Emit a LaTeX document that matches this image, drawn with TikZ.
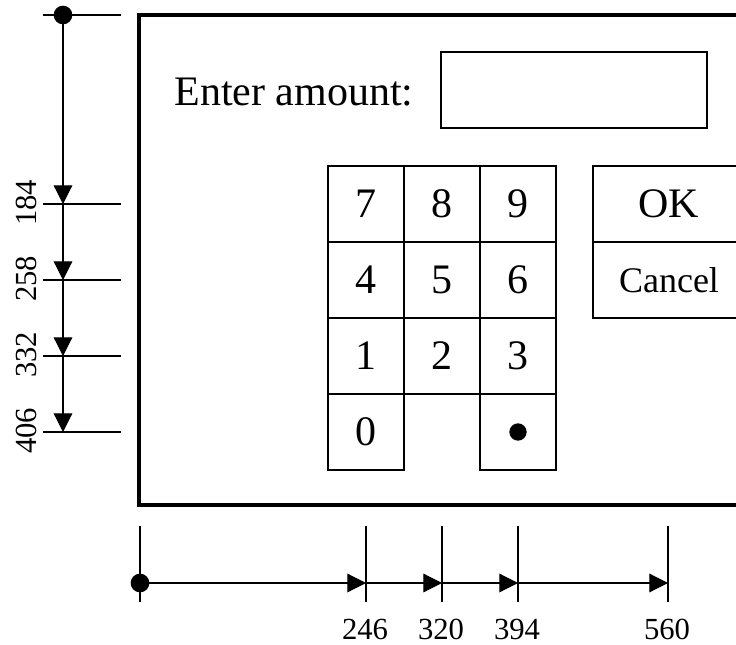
\documentclass[tikz,border=0pt]{standalone}
\usepackage{fontspec}
\setmainfont{Liberation Serif}
\usetikzlibrary{positioning, arrows.meta}

\begin{document}
\begin{tikzpicture}[
    x=0.75pt, y=-0.75pt,
    every node/.style={font=\fontsize{31.5}{36}\selectfont, align=center},
    key/.style={draw, line width=0.9pt, minimum size=57pt, outer sep=0pt, inner sep=0pt},
    dimline/.style={line width=0.9pt},
    arrow/.style={-{Triangle[length=14pt, width=14pt]}, line width=0.9pt},
    dimlabel/.style={font=\fontsize{23}{26}\selectfont},
    dot/.style={circle, fill, inner sep=0pt, minimum size=14pt}
]
    \useasboundingbox (0,0) rectangle (736,645);

    % screen frame (runs off the right side)
    \draw[line width=3pt] (760,15) -| (139,505) -- (760,505);

    \node (prompt) at (294,92) {Enter amount:};
    \node (amount) [draw, line width=0.9pt, outer sep=0pt, minimum width=199.5pt, minimum height=57pt] at (574,90) {};

    % keypad
    \node (k7) [key] at (366,204) {7};
    \node (k8) [key, right=0pt of k7] {8};
    \node (k9) [key, right=0pt of k8] {9};
    \node (k4) [key, below=0pt of k7] {4};
    \node (k5) [key, right=0pt of k4] {5};
    \node (k6) [key, right=0pt of k5] {6};
    \node (k1) [key, below=0pt of k4] {1};
    \node (k2) [key, right=0pt of k1] {2};
    \node (k3) [key, right=0pt of k2] {3};
    \node (k0) [key, below=0pt of k1] {0};
    \node (kpoint) [key, below=0pt of k3] {\tikz\fill (0,0) circle (6.5pt);};

    \node (ok) [key, minimum width=114pt] at (669,204) {OK};
    \node (cancel) [key, minimum width=114pt, below=0pt of ok, font=\fontsize{27}{30}\selectfont] {Cancel};

    % vertical dimensions
    \foreach \y/\n in {15/v0, 204/v1, 280/v2, 356/v3, 432/v4} {
        \coordinate (\n) at (63,\y);
        \draw[dimline] (43,\y) -- (121,\y);
    }
    \node[dot] (vstart) at (v0) {};
    \draw[arrow] (vstart.center) -- (v1);
    \draw[arrow] (v1) -- (v2);
    \draw[arrow] (v2) -- (v3);
    \draw[arrow] (v3) -- (v4);
    \node[dimlabel, rotate=90] (y184) at (26,203) {184};
    \node[dimlabel, rotate=90] (y258) at (26,279) {258};
    \node[dimlabel, rotate=90] (y332) at (26,355) {332};
    \node[dimlabel, rotate=90] (y406) at (26,431) {406};

    % horizontal dimensions
    \foreach \x/\n in {140/h0, 366/h1, 442/h2, 518/h3, 668/h4} {
        \coordinate (\n) at (\x,583);
        \draw[dimline] (\x,526) -- (\x,602);
    }
    \node[dot] (hstart) at (h0) {};
    \draw[arrow] (hstart.center) -- (h1);
    \draw[arrow] (h1) -- (h2);
    \draw[arrow] (h2) -- (h3);
    \draw[arrow] (h3) -- (h4);
    \node[dimlabel] (x246) at (365,629) {246};
    \node[dimlabel] (x320) at (441,629) {320};
    \node[dimlabel] (x394) at (517,629) {394};
    \node[dimlabel] (x560) at (667,629) {560};
\end{tikzpicture}
\end{document}
